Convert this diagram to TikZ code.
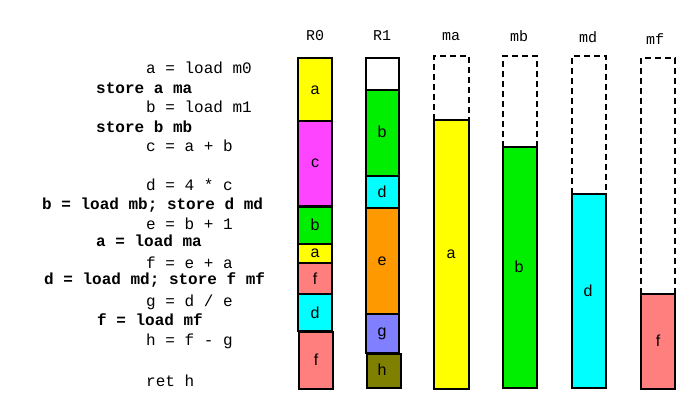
\documentclass[tikz,border=0pt]{standalone}
\usepackage{fontspec}
\setmainfont{Liberation Sans}
\newfontfamily\codefont{Liberation Mono}
\definecolor{cyel}{HTML}{FFFF00}
\definecolor{cmag}{HTML}{FF44FF}
\definecolor{cgrn}{HTML}{00EE00}
\definecolor{ccyn}{HTML}{00FFFF}
\definecolor{csal}{HTML}{FF7F7F}
\definecolor{corg}{HTML}{FF9900}
\definecolor{cblu}{HTML}{7F7FFF}
\definecolor{colv}{HTML}{808000}
\tikzset{
  cell/.style={draw=black, line width=1.4pt},
  ghost/.style={draw=black, line width=1.3pt, dash pattern=on 6pt off 4pt},
  lab/.style={font=\fontsize{16}{16}\selectfont, inner sep=0pt},
  code/.style={font=\codefont\fontsize{16}{16}\selectfont, anchor=west, inner sep=0pt},
  bcode/.style={font=\codefont\bfseries\fontsize{16}{16}\selectfont, anchor=west, inner sep=0pt},
  head/.style={font=\codefont\fontsize{15}{15}\selectfont, inner sep=0pt},
}
\begin{document}
\begin{tikzpicture}[x=1pt,y=-1pt]
\useasboundingbox (0,0) rectangle (700,411);
% code lines
\node[code]  (l1)  at (146,68)  {a = load m0};
\node[bcode] (l2)  at (96,88)   {store a ma};
\node[code]  (l3)  at (146,107) {b = load m1};
\node[bcode] (l4)  at (96,127)  {store b mb};
\node[code]  (l5)  at (146,146) {c = a + b};
\node[code]  (l6)  at (146,185) {d = 4 * c};
\node[bcode] (l7)  at (42,205)  {b = load mb; store d md};
\node[code]  (l8)  at (146,224) {e = b + 1};
\node[bcode] (l9)  at (96,241)  {a = load ma};
\node[code]  (l10) at (146,263) {f = e + a};
\node[bcode] (l11) at (44,280)  {d = load md; store f mf};
\node[code]  (l12) at (146,302) {g = d / e};
\node[bcode] (l13) at (97,320)  {f = load mf};
\node[code]  (l14) at (146,341) {h = f - g};
\node[code]  (l15) at (146,381) {ret h};
% headers
\node[head] (hR0) at (315,36) {R0};
\node[head] (hR1) at (382,36) {R1};
\node[head] (hma) at (451,37) {ma};
\node[head] (hmb) at (519,36) {mb};
\node[head] (hmd) at (588,37) {md};
\node[head] (hmf) at (655,39) {mf};
% R0
\draw[cell, fill=cyel] (298,58) rectangle (332,121);
\node[lab] (r0a) at (315,90) {a};
\draw[cell, fill=cmag] (298,121) rectangle (332,206);
\node[lab] (r0c) at (315,163) {c};
\draw[cell, fill=cgrn] (298,207) rectangle (332,244);
\node[lab] (r0b) at (315,225) {b};
\draw[cell, fill=cyel] (298,244) rectangle (332,263);
\node[lab] (r0a2) at (315,253) {a};
\draw[cell, fill=csal] (298,263) rectangle (332,294);
\node[lab] (r0f) at (315,279) {f};
\draw[cell, fill=ccyn] (298,294) rectangle (332,331);
\node[lab] (r0d) at (315,313) {d};
\draw[cell, fill=csal] (299,332) rectangle (333,389);
\node[lab] (r0f2) at (316,360) {f};
% R1
\draw[cell, fill=white] (366,58) rectangle (399,90);
\draw[cell, fill=cgrn] (366,90) rectangle (399,176);
\node[lab] (r1b) at (382,132) {b};
\draw[cell, fill=ccyn] (366,176) rectangle (399,208);
\node[lab] (r1d) at (382,192) {d};
\draw[cell, fill=corg] (366,208) rectangle (399,314);
\node[lab] (r1e) at (382,261) {e};
\draw[cell, fill=cblu] (366,314) rectangle (399,353);
\node[lab] (r1g) at (382,334) {g};
\draw[cell, fill=colv] (367,354) rectangle (401,388);
\node[lab] (r1h) at (382,370) {h};
% ma
\draw[ghost] (434,120) -- (434,56) -- (469,56) -- (469,120);
\draw[cell, fill=cyel] (434,120) rectangle (469,389);
\node[lab] (maa) at (451,254) {a};
% mb
\draw[ghost] (503,147) -- (503,56) -- (537,56) -- (537,147);
\draw[cell, fill=cgrn] (503,147) rectangle (537,388);
\node[lab] (mbb) at (519,267) {b};
% md
\draw[ghost] (572,194) -- (572,56) -- (606,56) -- (606,194);
\draw[cell, fill=ccyn] (572,194) rectangle (606,388);
\node[lab] (mdd) at (588,291) {d};
% mf
\draw[ghost] (641,294) -- (641,58) -- (675,58) -- (675,294);
\draw[cell, fill=csal] (641,294) rectangle (675,389);
\node[lab] (mff) at (658,341) {f};
\end{tikzpicture}
\end{document}
